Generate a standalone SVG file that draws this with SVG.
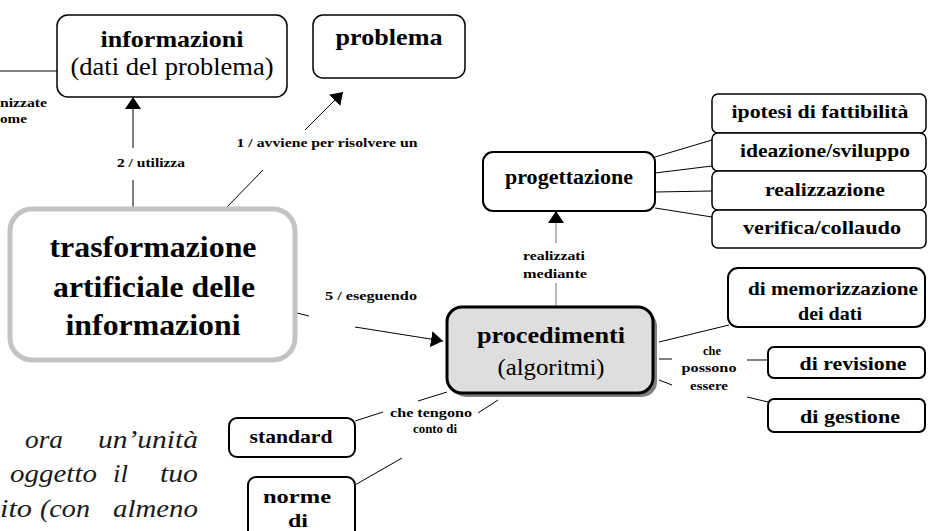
<svg xmlns="http://www.w3.org/2000/svg" width="930" height="531" viewBox="0 0 930 531">
  <style>
    text { font-family: "Liberation Serif", "Times New Roman", serif; fill: #000; }
    .b { font-weight: bold; }
    .mid { text-anchor: middle; }
    .lbl { font-size: 13px; font-weight: bold; text-anchor: middle; }
    .node { fill: #fff; stroke: #000; stroke-width: 1.5; }
    .node2 { fill: #fff; stroke: #000; stroke-width: 2; }
    .conn { stroke: #000; stroke-width: 1; fill: none; }
    .conn-grey { stroke: #8c8c8c; stroke-width: 1.2; fill: none; }
    .para { font-style: italic; font-size: 26px; fill: #1a1a1a; }
  </style>
  <defs>
    <marker id="arrow" viewBox="0 0 12 16" refX="12" refY="8" markerWidth="12" markerHeight="16" markerUnits="userSpaceOnUse" orient="auto">
      <path d="M0,0 L12,8 L0,16 z" fill="#000"/>
    </marker>
  </defs>

  <rect width="930" height="531" fill="#fff"/>

  <!-- connectors -->
  <g id="connectors">
    <line class="conn" x1="0" y1="71" x2="57" y2="71"/>
    <line class="conn" x1="133" y1="148" x2="133" y2="97" marker-end="url(#arrow)"/>
    <line class="conn" x1="133" y1="180" x2="133" y2="207"/>
    <line class="conn" x1="305" y1="130" x2="343" y2="92" marker-end="url(#arrow)"/>
    <line class="conn" x1="263" y1="170" x2="227" y2="207"/>
    <line class="conn" x1="297" y1="313" x2="309" y2="316"/>
    <line class="conn" x1="355" y1="327" x2="443" y2="341" marker-end="url(#arrow)"/>
    <line class="conn-grey" x1="556" y1="243" x2="556" y2="211" marker-end="url(#arrow)"/>
    <line class="conn-grey" x1="556" y1="283" x2="556" y2="306"/>
    <line class="conn" x1="655" y1="157" x2="712" y2="140"/>
    <line class="conn" x1="655" y1="173" x2="712" y2="166"/>
    <line class="conn" x1="655" y1="192" x2="712" y2="191"/>
    <line class="conn" x1="655" y1="208" x2="712" y2="217"/>
    <line class="conn" x1="659" y1="342" x2="729" y2="325"/>
    <line class="conn" x1="659" y1="359" x2="672" y2="359"/>
    <line class="conn" x1="747" y1="360" x2="768" y2="360"/>
    <line class="conn" x1="659" y1="380" x2="672" y2="385"/>
    <line class="conn" x1="747" y1="397" x2="768" y2="402"/>
    <line class="conn" x1="355" y1="421" x2="383" y2="412"/>
    <line class="conn" x1="418" y1="401" x2="447" y2="392"/>
    <line class="conn" x1="355" y1="485" x2="402" y2="458"/>
    <line class="conn" x1="478" y1="413" x2="498" y2="400"/>

    <text class="lbl" x="151" y="167" textLength="68" lengthAdjust="spacingAndGlyphs">2 / utilizza</text>
    <text class="lbl" x="327" y="147" textLength="181" lengthAdjust="spacingAndGlyphs">1 / avviene per risolvere un</text>
    <text class="lbl" x="371" y="300" textLength="92" lengthAdjust="spacingAndGlyphs">5 / eseguendo</text>
    <text class="lbl" x="554" y="260" textLength="62" lengthAdjust="spacingAndGlyphs">realizzati</text>
    <text class="lbl" x="555" y="278" textLength="64" lengthAdjust="spacingAndGlyphs">mediante</text>
    <text class="lbl" x="712" y="355" textLength="18" lengthAdjust="spacingAndGlyphs">che</text>
    <text class="lbl" x="709" y="372" textLength="55" lengthAdjust="spacingAndGlyphs">possono</text>
    <text class="lbl" x="709" y="390" textLength="38" lengthAdjust="spacingAndGlyphs">essere</text>
    <text class="lbl" x="431" y="417" textLength="82" lengthAdjust="spacingAndGlyphs">che tengono</text>
    <text class="lbl" x="435" y="433" textLength="44" lengthAdjust="spacingAndGlyphs">conto di</text>
    <text class="lbl" x="47" y="107" style="text-anchor:end" textLength="47" lengthAdjust="spacingAndGlyphs">nizzate</text>
    <text class="lbl" x="27" y="123" style="text-anchor:end" textLength="27" lengthAdjust="spacingAndGlyphs">ome</text>
  </g>

  <!-- nodes -->
  <g id="informazioni">
    <rect class="node" x="57" y="15" width="230" height="82" rx="11"/>
    <text class="b mid" x="172" y="47" font-size="24" textLength="143" lengthAdjust="spacingAndGlyphs">informazioni</text>
    <text class="mid" x="172" y="75" font-size="25" textLength="203" lengthAdjust="spacingAndGlyphs">(dati del problema)</text>
  </g>

  <g id="problema">
    <rect class="node" x="313" y="15" width="152" height="63" rx="10"/>
    <text class="b mid" x="389" y="45" font-size="24" textLength="107" lengthAdjust="spacingAndGlyphs">problema</text>
  </g>

  <g id="trasformazione">
    <rect x="10" y="209" width="285" height="151" rx="22" fill="#fff" stroke="#c3c3c3" stroke-width="5"/>
    <text class="b mid" x="153" y="257" font-size="30" textLength="207" lengthAdjust="spacingAndGlyphs">trasformazione</text>
    <text class="b mid" x="154" y="297" font-size="30" textLength="202" lengthAdjust="spacingAndGlyphs">artificiale delle</text>
    <text class="b mid" x="153" y="335" font-size="30" textLength="175" lengthAdjust="spacingAndGlyphs">informazioni</text>
  </g>

  <g id="progettazione">
    <rect class="node2" x="483" y="152" width="172" height="59" rx="10"/>
    <text class="b mid" x="569" y="184" font-size="20" textLength="128" lengthAdjust="spacingAndGlyphs">progettazione</text>
  </g>

  <g id="ipotesi">
    <rect class="node" x="712" y="94" width="214" height="39" rx="6"/>
    <text class="b mid" x="820" y="118" font-size="19" textLength="177" lengthAdjust="spacingAndGlyphs">ipotesi di fattibilità</text>
  </g>
  <g id="ideazione">
    <rect class="node" x="712" y="133" width="214" height="38" rx="6"/>
    <text class="b mid" x="825" y="157" font-size="19" textLength="170" lengthAdjust="spacingAndGlyphs">ideazione/sviluppo</text>
  </g>
  <g id="realizzazione">
    <rect class="node" x="712" y="171" width="214" height="39" rx="6"/>
    <text class="b mid" x="825" y="196" font-size="19" textLength="120" lengthAdjust="spacingAndGlyphs">realizzazione</text>
  </g>
  <g id="verifica">
    <rect class="node" x="712" y="210" width="214" height="38" rx="6"/>
    <text class="b mid" x="822" y="234" font-size="19" textLength="158" lengthAdjust="spacingAndGlyphs">verifica/collaudo</text>
  </g>

  <g id="procedimenti">
    <rect x="451" y="311" width="206" height="86" rx="15" fill="#808080"/>
    <rect x="447" y="307" width="206" height="86" rx="15" fill="#dedede" stroke="#000" stroke-width="3"/>
    <text class="b mid" x="551" y="343" font-size="24" textLength="148" lengthAdjust="spacingAndGlyphs">procedimenti</text>
    <text class="mid" x="551" y="375" font-size="24" textLength="107" lengthAdjust="spacingAndGlyphs">(algoritmi)</text>
  </g>

  <g id="memorizzazione">
    <rect class="node2" x="728" y="268" width="197" height="59" rx="10"/>
    <text class="b mid" x="833" y="295" font-size="19" textLength="170" lengthAdjust="spacingAndGlyphs">di memorizzazione</text>
    <text class="b mid" x="830" y="320" font-size="19" textLength="64" lengthAdjust="spacingAndGlyphs">dei dati</text>
  </g>
  <g id="revisione">
    <rect class="node2" x="768" y="347" width="157" height="31" rx="6"/>
    <text class="b mid" x="853" y="370" font-size="19" textLength="107" lengthAdjust="spacingAndGlyphs">di revisione</text>
  </g>
  <g id="gestione">
    <rect class="node2" x="768" y="399" width="157" height="33" rx="6"/>
    <text class="b mid" x="850" y="423" font-size="19" textLength="100" lengthAdjust="spacingAndGlyphs">di gestione</text>
  </g>

  <g id="standard">
    <rect class="node2" x="229" y="418" width="126" height="39" rx="8"/>
    <text class="b mid" x="291" y="443" font-size="19" textLength="83" lengthAdjust="spacingAndGlyphs">standard</text>
  </g>
  <g id="norme">
    <rect class="node2" x="248" y="477" width="107" height="70" rx="8"/>
    <text class="b mid" x="297" y="503" font-size="19" textLength="68" lengthAdjust="spacingAndGlyphs">norme</text>
    <text class="b mid" x="298" y="527" font-size="19" textLength="20" lengthAdjust="spacingAndGlyphs">di</text>
  </g>

  <!-- justified italic paragraph, left margin -->
  <g id="paragrafo">
    <text class="para" x="25" y="448" textLength="38" lengthAdjust="spacingAndGlyphs">ora</text>
    <text class="para" x="98" y="448" textLength="100" lengthAdjust="spacingAndGlyphs">un’unità</text>
    <text class="para" x="10" y="482" textLength="87" lengthAdjust="spacingAndGlyphs">oggetto</text>
    <text class="para" x="113" y="482" textLength="15" lengthAdjust="spacingAndGlyphs">il</text>
    <text class="para" x="160" y="482" textLength="38" lengthAdjust="spacingAndGlyphs">tuo</text>
    <text class="para" x="0" y="517" textLength="32" lengthAdjust="spacingAndGlyphs">ito</text>
    <text class="para" x="40" y="517" textLength="50" lengthAdjust="spacingAndGlyphs">(con</text>
    <text class="para" x="113" y="517" textLength="85" lengthAdjust="spacingAndGlyphs">almeno</text>
  </g>
</svg>
